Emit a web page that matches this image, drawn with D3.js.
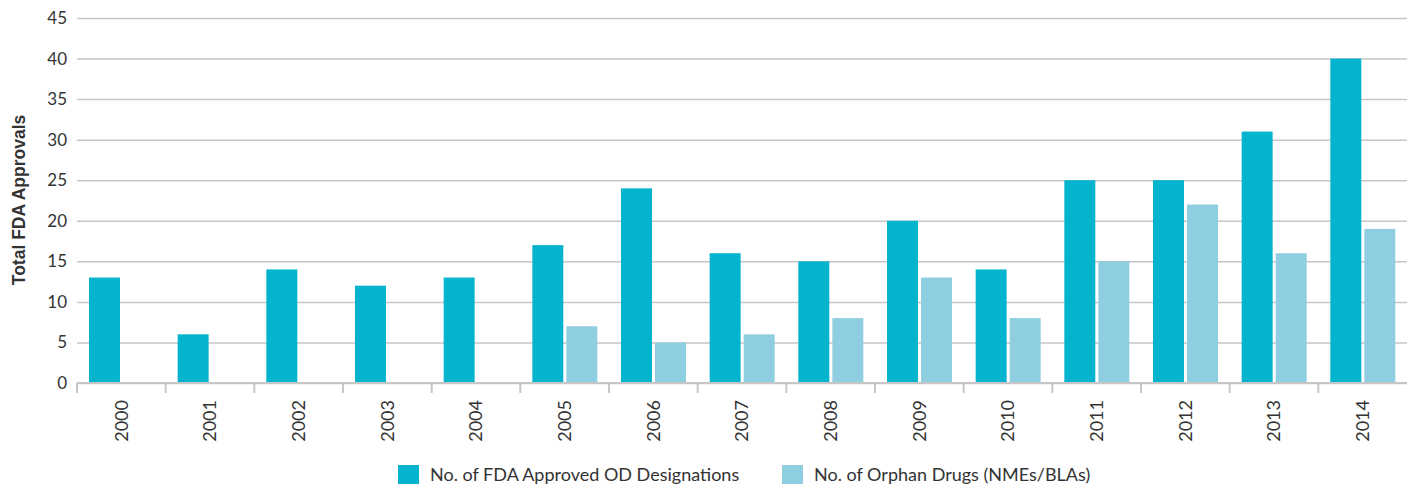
<!DOCTYPE html>
<html>
<head>
<meta charset="utf-8">
<script src="https://cdnjs.cloudflare.com/ajax/libs/d3/7.8.5/d3.min.js"></script>
<style>
  body { margin: 0; background: #fff; }
  svg { display: block; }
  text { font-family: Lato, "Open Sans", sans-serif; fill: #333; }
</style>
</head>
<body>
<div id="chart"></div>
<script>
const years = ['2000', '2001', '2002', '2003', '2004', '2005', '2006', '2007', '2008', '2009', '2010', '2011', '2012', '2013', '2014']
const designations = [13, 6, 14, 12, 13, 17, 24, 16, 15, 20, 14, 25, 25, 31, 40]
const orphanDrugs = [0, 0, 0, 0, 0, 7, 5, 6, 8, 13, 8, 15, 22, 16, 19]
const yTicks = [0, 5, 10, 15, 20, 25, 30, 35, 40, 45]
const seriesNames = ['No. of FDA Approved OD Designations', 'No. of Orphan Drugs (NMEs/BLAs)']
const colors = ['#04b3ce', '#8fcee0']

const svgw = 1407
const svgh = 484
const plotLeft = 77
const plotBottom = 383
const plotTop = 18

const svg = d3.select('#chart')
    .append('svg')
    .attr('width', svgw)
    .attr('height', svgh)

const rows = years.map((y, i) => ({ year: y, values: [designations[i], orphanDrugs[i]] }))

const x0 = d3.scaleBand()
    .domain(years)
    .range([plotLeft, svgw])
    .padding(0)

const x1 = d3.scaleBand()
    .domain([0, 1])
    .range([12, 77])
    .paddingInner(0.09)

const yScale = d3.scaleLinear()
    .domain([0, 45])
    .range([plotBottom, plotTop])

// grid lines + y labels
const yAxis = d3.axisLeft(yScale)
    .tickValues(yTicks)
    .tickSize(-(svgw - plotLeft))
    .tickPadding(10)

svg.append('g')
    .attr('class', 'y-axis')
    .attr('transform', `translate(${plotLeft},0)`)
    .call(yAxis)
    .call(g => g.select('.domain').remove())
    .call(g => g.selectAll('line').attr('stroke', '#c6c6c6').attr('stroke-width', 1.5))
    .call(g => g.selectAll('text').style('font-size', '17px').attr('fill', '#333'))

// bars
svg.append('g')
    .selectAll('g')
    .data(rows)
    .enter()
    .append('g')
    .attr('transform', d => `translate(${x0(d.year)},0)`)
    .selectAll('rect')
    .data(d => d.values.map((v, k) => ({ k, v })))
    .enter()
    .append('rect')
    .attr('x', d => x1(d.k))
    .attr('width', x1.bandwidth())
    .attr('y', d => yScale(d.v))
    .attr('height', d => plotBottom - yScale(d.v))
    .attr('fill', d => colors[d.k])

// x axis
const xg = svg.append('g')
    .attr('transform', `translate(0,${plotBottom})`)

xg.append('line')
    .attr('x1', plotLeft)
    .attr('x2', svgw)
    .attr('stroke', '#c6c6c6')
    .attr('stroke-width', 2)

xg.selectAll('.tick')
    .data(years)
    .enter()
    .append('line')
    .attr('x1', d => x0(d))
    .attr('x2', d => x0(d))
    .attr('y1', 0)
    .attr('y2', 10)
    .attr('stroke', '#c6c6c6')
    .attr('stroke-width', 2)

xg.selectAll('.xlabel')
    .data(years)
    .enter()
    .append('text')
    .attr('transform', d => `translate(${x0(d) + x0.bandwidth() / 2},17) rotate(-90)`)
    .attr('text-anchor', 'end')
    .attr('dy', '0.35em')
    .style('font-size', '18px')
    .text(d => d)

// y title
svg.append('text')
    .attr('transform', `translate(19,200) rotate(-90)`)
    .attr('text-anchor', 'middle')
    .attr('dy', '0.35em')
    .style('font-family', '"Liberation Sans", Arial, sans-serif')
    .style('font-size', '17.5px')
    .style('font-weight', 'bold')
    .attr('fill', '#222')
    .text('Total FDA Approvals')

// legend
const legendX = [398, 782]
const legend = svg.append('g')
seriesNames.forEach((name, i) => {
    legend.append('rect')
        .attr('x', legendX[i])
        .attr('y', 465)
        .attr('width', 21)
        .attr('height', 19)
        .attr('fill', colors[i])
    legend.append('text')
        .attr('x', legendX[i] + 32)
        .attr('y', 481)
        .style('font-size', '18px')
        .text(name)
})
</script>
</body>
</html>
